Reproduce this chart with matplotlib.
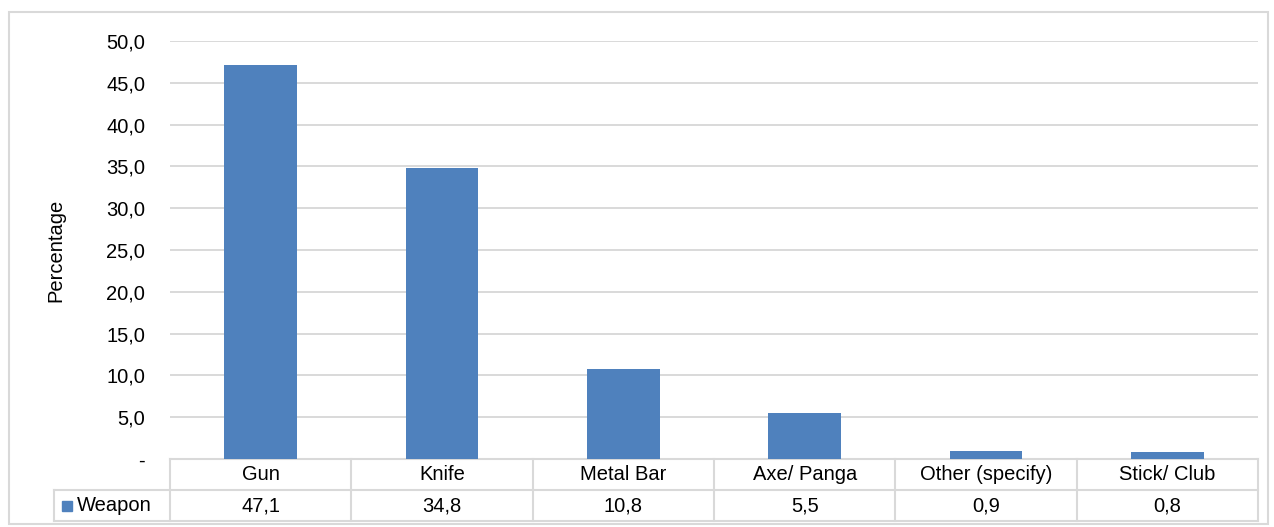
import matplotlib.pyplot as plt
from matplotlib.patches import Rectangle
import numpy as np

plt.rcParams['font.family'] = ['Liberation Sans', 'DejaVu Sans']

categories = ["Gun", "Knife", "Metal Bar", "Axe/ Panga", "Other (specify)", "Stick/ Club"]
values = [47.1, 34.8, 10.8, 5.5, 0.9, 0.8]
series_name = "Weapon"
yticks = [0, 5, 10, 15, 20, 25, 30, 35, 40, 45, 50]

W, H = 1274, 527
bar_color = "#4F81BD"
grid_color = "#D9D9D9"
fs = 14.5

fig = plt.figure(figsize=(W / 100, H / 100), dpi=100)

# plot area in pixels
x0, x1 = 170, 1258
ytop, ybot = 41, 459
ax = fig.add_axes([x0 / W, 1 - ybot / H, (x1 - x0) / W, (ybot - ytop) / H])

x = np.arange(len(categories))
ax.bar(x, values, width=0.4, color=bar_color, zorder=3)
ax.set_xlim(-0.5, len(categories) - 0.5)
ax.set_ylim(0, 50)
ax.set_yticks(yticks)
ax.set_yticklabels(["-" if v == 0 else f"{v:.1f}".replace(".", ",") for v in yticks], fontsize=fs)
ax.tick_params(axis="y", length=0, pad=18)
ax.tick_params(axis="x", length=0, labelbottom=False)
ax.grid(axis="y", color=grid_color, linewidth=1.4, zorder=0)
for s in ax.spines.values():
    s.set_visible(False)
ax.set_ylabel("Percentage", fontsize=fs, labelpad=29)

# data table below the axis
row_h = 31 / (ybot - ytop) * 50  # in data units of y
lc = dict(color=grid_color, linewidth=1.5, clip_on=False, zorder=1)
cell_w = (x1 - x0) / len(categories)
left_cell = -0.5 - (x0 - 54) / cell_w
ax.plot([-0.5, len(categories) - 0.5], [0, 0], **lc)
ax.plot([left_cell, len(categories) - 0.5], [-row_h, -row_h], **lc)
ax.plot([left_cell, len(categories) - 0.5], [-2 * row_h, -2 * row_h], **lc)
for b in np.arange(len(categories) + 1) - 0.5:
    ax.plot([b, b], [0, -2 * row_h], **lc)
ax.plot([left_cell, left_cell], [-row_h, -2 * row_h], **lc)

for i, (c, v) in enumerate(zip(categories, values)):
    ax.text(i, -row_h / 2, c, ha="center", va="center", fontsize=fs, clip_on=False)
    ax.text(i, -1.5 * row_h, f"{v:.1f}".replace(".", ","), ha="center", va="center",
            fontsize=fs, clip_on=False)

ax.add_patch(Rectangle((left_cell + 8 / cell_w, -1.5 * row_h - 5 / 418 * 50), 10 / cell_w,
                       10 / 418 * 50, color=bar_color, clip_on=False))
ax.text(left_cell + 23 / cell_w, -1.5 * row_h, series_name, ha="left", va="center",
        fontsize=fs, clip_on=False)

# outer chart border
fig.patches.append(Rectangle((9 / W, 1 - 524 / H), (1268 - 9) / W, (524 - 12) / H,
                             transform=fig.transFigure, fill=False,
                             edgecolor=grid_color, linewidth=1.5))

fig.savefig("out.png", dpi=100)
